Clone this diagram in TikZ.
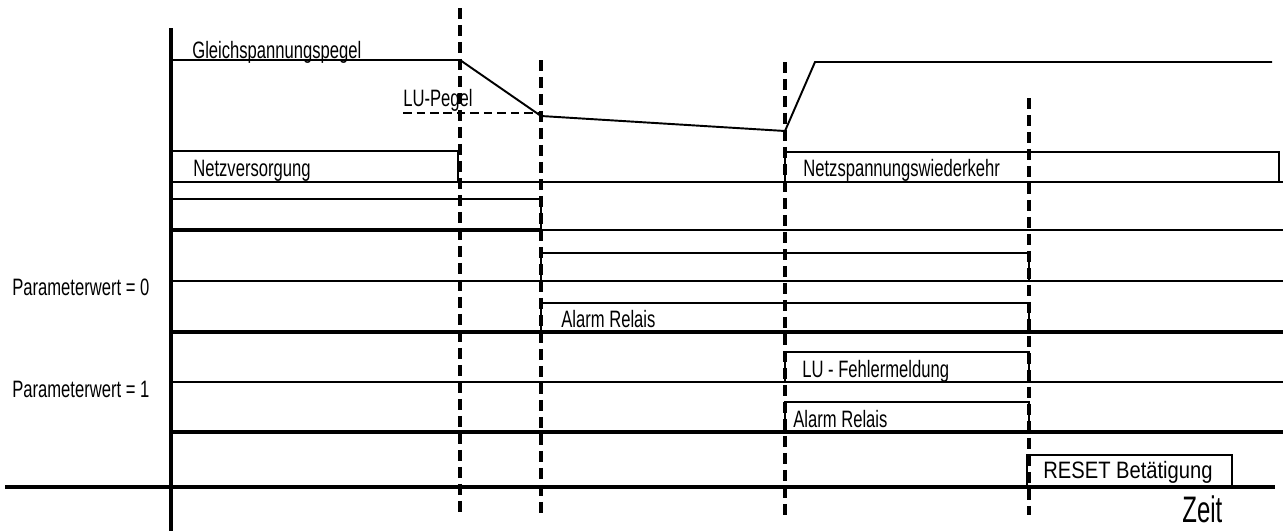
\documentclass[tikz,border=0pt]{standalone}
\usepackage{fontspec}
\setmainfont{Liberation Sans}[FakeStretch=0.7]
\newfontfamily\resetfont{Liberation Sans}[FakeStretch=0.85]
\newfontfamily\zeitfont{Liberation Sans}[FakeStretch=0.65]

\begin{document}
\begin{tikzpicture}[
    x=0.02cm, y=-0.02cm,
    axisline/.style={line width=2.3pt},
    lowline/.style={line width=1.1pt},
    busline/.style={line width=2.3pt},
    pulse/.style={line width=1.1pt},
    timeline/.style={line width=1.9pt,dash pattern=on 0.22cm off 0.12cm},
    lulevel/.style={line width=1.3pt,dash pattern=on 0.17cm off 0.1cm},
    lbl/.style={anchor=base west,inner sep=0pt,font=\fontsize{13.5}{15}\selectfont}
]
  \useasboundingbox (0,0) rectangle (1287,531);

  % Axes
  \draw[axisline] (171,28) -- (171,531);
  \draw[axisline] (5,487) -- (1275,487);

  % Time markers
  \foreach \x/\top in {460/8, 541/60, 785/62, 1029/98}
    \draw[timeline] (\x,\top) -- (\x,515);

  % DC level and LU level
  \draw[lowline] (171,60) -- (460,60) -- (541,116) -- (785,131) -- (815,62) -- (1272,62);
  \draw[lulevel] (403,113) -- (541,113);
  \node[lbl] (dcpegel) at (192,58) {Gleichspannungspegel};
  \node[lbl] (lupegel) at (403,106) {LU-Pegel};

  % Low lines of the signal rows
  \foreach \y/\w in {182/1.1, 281/1.1, 332/2.3, 382/1.1, 432/2.3}
    \draw[line width=\w pt] (171,\y) -- (1283,\y);
  \draw[busline] (171,230) -- (541,230);
  \draw[lowline] (541,230) -- (1283,230);

  % Pulses
  \draw[pulse] (171,151) -- (458,151) -- (458,182);
  \draw[pulse] (785,182) |- (1279,152) -- (1279,182);
  \draw[pulse] (171,199) -- (541,199) -- (541,230);
  \draw[pulse] (541,281) |- (1029,253) -- (1029,281);
  \draw[pulse] (541,332) |- (1029,303) -- (1029,332);
  \draw[pulse] (785,382) |- (1029,352) -- (1029,382);
  \draw[pulse] (785,432) |- (1029,402) -- (1029,432);
  \draw[pulse] (1027,487) |- (1232,455) -- (1232,487);

  % Labels
  \node[lbl] (netzvers) at (193,176) {Netzversorgung};
  \node[lbl] (netzwieder) at (803,176) {Netzspannungswiederkehr};
  \node[lbl] (alarm0) at (561,327) {Alarm Relais};
  \node[lbl] (lufehler) at (802,377) {LU - Fehlermeldung};
  \node[lbl] (alarm1) at (793,427) {Alarm Relais};
  \node[lbl,font=\resetfont\fontsize{13.5}{15}\selectfont] (reset) at (1043,478) {RESET Betätigung};
  \node[lbl,font=\zeitfont\fontsize{21}{24}\selectfont] (zeit) at (1182,522) {Zeit};
  \node[lbl] (param0) at (12,295) {Parameterwert = 0};
  \node[lbl] (param1) at (12,397) {Parameterwert = 1};
\end{tikzpicture}
\end{document}
